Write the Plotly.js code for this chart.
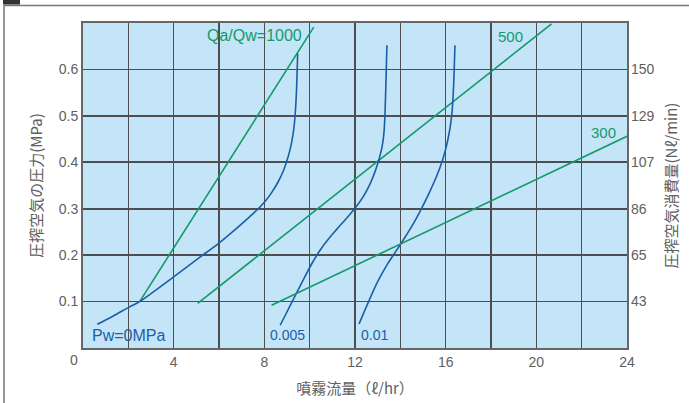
<!DOCTYPE html>
<html>
<head>
<meta charset="utf-8">
<script src="https://cdn.plot.ly/plotly-3.0.1.min.js"></script>
<style>html,body{margin:0;padding:0;background:#fff;}#chart{width:689px;height:403px;}</style>
</head>
<body>
<div id="chart"></div>
<script>
// ---- data ----
const pw0X = [0.63, 1.3, 2.0, 2.5, 3.0, 4.0, 5.0, 6.0, 6.9, 7.73, 8.0, 8.3, 8.6, 8.85, 9.05, 9.2, 9.3, 9.37, 9.42, 9.45, 9.47];
const pw0Y = [0.051, 0.068, 0.087, 0.100, 0.117, 0.153, 0.190, 0.226, 0.263, 0.300, 0.314, 0.333, 0.357, 0.383, 0.412, 0.442, 0.472, 0.510, 0.555, 0.600, 0.634];

const pw005X = [8.70, 9.2, 9.7, 10.1, 10.45, 10.8, 11.2, 11.6, 12.0, 12.35, 12.65, 12.9, 13.08, 13.2, 13.27, 13.31, 13.34, 13.37, 13.39, 13.41];
const pw005Y = [0.049, 0.097, 0.145, 0.182, 0.210, 0.233, 0.256, 0.278, 0.301, 0.325, 0.352, 0.382, 0.410, 0.435, 0.460, 0.490, 0.530, 0.580, 0.620, 0.652];

const pw01X = [12.18, 12.6, 13.0, 13.4, 13.8, 14.2, 14.6, 14.95, 15.3, 15.6, 15.85, 16.02, 16.15, 16.24, 16.30, 16.35, 16.38, 16.41];
const pw01Y = [0.052, 0.100, 0.143, 0.178, 0.208, 0.238, 0.270, 0.302, 0.337, 0.370, 0.403, 0.432, 0.462, 0.490, 0.520, 0.565, 0.605, 0.652];

const ratio1000X = [2.5, 10.18];
const ratio1000Y = [0.100, 0.691];
const ratio500X = [5.06, 20.67];
const ratio500Y = [0.096, 0.698];
const ratio300X = [8.32, 24.0];
const ratio300Y = [0.092, 0.456];

const xTickVals = [4, 8, 12, 16, 20, 24];
const xTickText = ['4', '8', '12', '16', '20', '24'];
const yTickVals = [0.1, 0.2, 0.3, 0.4, 0.5, 0.6];
const yTickText = ['0.1', '0.2', '0.3', '0.4', '0.5', '0.6'];
const y2TickText = ['43', '65', '86', '107', '129', '150'];

const curveLabels = ['Pw=0MPa', '0.005', '0.01'];
const ratioLabels = ['Qa/Qw=1000', '500', '300'];

// ---- styles ----
const BLUE = '#1b5ea8';
const GREEN = '#14996a';
const GRID = '#4e4e4e';
const TXT = '#606060';
const FONT = 'Liberation Sans, Arial, Noto Sans CJK JP, sans-serif';
const CJK = 'Noto Sans CJK JP, Liberation Sans, sans-serif';

const blueLine = {color: BLUE, width: 1.6, shape: 'spline', smoothing: 1};
const greenLine = {color: GREEN, width: 1.6};

const traces = [
  {x: ratio1000X, y: ratio1000Y, mode: 'lines', line: greenLine, hoverinfo: 'skip'},
  {x: ratio500X, y: ratio500Y, mode: 'lines', line: greenLine, hoverinfo: 'skip'},
  {x: ratio300X, y: ratio300Y, mode: 'lines', line: greenLine, yaxis: 'y2', hoverinfo: 'skip'},
  {x: pw0X, y: pw0Y, mode: 'lines', line: blueLine, hoverinfo: 'skip'},
  {x: pw005X, y: pw005Y, mode: 'lines', line: blueLine, hoverinfo: 'skip'},
  {x: pw01X, y: pw01Y, mode: 'lines', line: blueLine, hoverinfo: 'skip'}
];

const lbl = (text, x, y, color, size) => ({
  text: text, x: x, y: y, xref: 'x', yref: 'y', showarrow: false,
  xanchor: 'center', yanchor: 'middle', font: {family: FONT, size: size, color: color}
});

const layout = {
  width: 689, height: 403,
  margin: {l: 83, r: 62, t: 23, b: 55, pad: 0},
  paper_bgcolor: '#ffffff',
  plot_bgcolor: '#c4e5f7',
  showlegend: false,
  font: {family: FONT, color: TXT},
  xaxis: {
    range: [0, 24], tickmode: 'array', tickvals: xTickVals, ticktext: xTickText,
    showgrid: true, gridcolor: GRID, gridwidth: 1.6,
    minor: {tick0: 0, dtick: 2, showgrid: true, gridcolor: GRID, gridwidth: 1.6, ticks: ''},
    showline: true, mirror: true, linecolor: '#666666', linewidth: 2,
    zeroline: false, ticks: '', tickfont: {family: FONT, size: 14, color: TXT},
    title: {text: '噴霧流量（ℓ/hr）', font: {family: CJK, size: 15, color: TXT}, standoff: 15}
  },
  yaxis: {
    range: [0, 0.7], tickmode: 'array', tickvals: yTickVals, ticktext: yTickText,
    showgrid: true, gridcolor: GRID, gridwidth: 1.6,
    showline: true, mirror: true, linecolor: '#666666', linewidth: 2,
    zeroline: false, ticks: '', tickfont: {family: FONT, size: 14, color: TXT},
    title: {text: '圧搾空気の圧力(MPa)', font: {family: CJK, size: 15, color: TXT}, standoff: 12}
  },
  yaxis2: {
    overlaying: 'y', side: 'right', anchor: 'x',
    range: [0, 0.7], tickmode: 'array', tickvals: yTickVals, ticktext: y2TickText,
    showgrid: false, zeroline: false, showline: false, ticks: '', ticklabelstandoff: 3,
    tickfont: {family: FONT, size: 14, color: TXT},
    title: {text: '圧搾空気消費量(Nℓ/min)', font: {family: CJK, size: 15, color: TXT}, standoff: 12}
  },
  annotations: [
    {text: '0', x: -0.0165, y: -0.037, xref: 'paper', yref: 'paper', showarrow: false,
     xanchor: 'center', yanchor: 'middle', font: {family: FONT, size: 14, color: TXT}},
    lbl(curveLabels[0], 2.01, 0.028, BLUE, 16),
    lbl(curveLabels[1], 9.0, 0.028, BLUE, 14),
    lbl(curveLabels[2], 12.88, 0.028, BLUE, 14),
    lbl(ratioLabels[0], 7.57, 0.673, GREEN, 16),
    lbl(ratioLabels[1], 18.86, 0.671, GREEN, 15),
    lbl(ratioLabels[2], 22.98, 0.4645, GREEN, 15)
  ],
  shapes: [
    {type: 'path', xref: 'paper', yref: 'paper',
     path: 'M -0.1452 -0.3 L -0.1452 1.0538 L 1.3 1.0538',
     line: {color: '#777777', width: 1.5}},
    {type: 'rect', xref: 'paper', yref: 'paper', x0: -0.1471, x1: -0.1158, y0: 1.0568, y1: 1.2,
     fillcolor: '#333333', line: {width: 0}}
  ]
};

Plotly.newPlot('chart', traces, layout, {displayModeBar: false, staticPlot: true});
</script>
</body>
</html>
